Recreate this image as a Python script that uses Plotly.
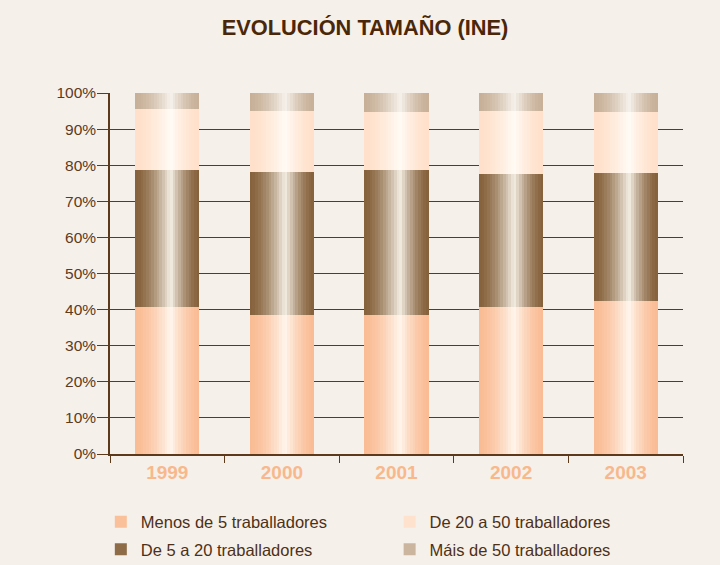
import plotly.graph_objects as go

# ---- data ----
years = ["1999", "2000", "2001", "2002", "2003"]
menos5 = [40.7, 38.5, 38.5, 40.7, 42.4]
de5a20 = [38.0, 39.6, 40.2, 36.9, 35.4]
de20a50 = [16.9, 16.9, 16.0, 17.4, 16.9]
mais50 = [4.4, 5.0, 5.3, 5.0, 5.3]
series_names = ["Menos de 5 traballadores", "De 5 a 20 traballadores",
                "De 20 a 50 traballadores", "Máis de 50 traballadores"]
series_values = [menos5, de5a20, de20a50, mais50]
y_ticks = [0, 10, 20, 30, 40, 50, 60, 70, 80, 90, 100]
y_tick_labels = [f"{v}%" for v in y_ticks]

# ---- style ----
edge_colors = [(250, 188, 148), (134, 98, 60), (255, 224, 202), (200, 176, 152)]
center_colors = [(255, 246, 238), (244, 238, 228), (255, 251, 246), (246, 242, 236)]
legend_ids = ["legend", "legend", "legend2", "legend2"]
BAR_W = 0.56
N = 24
PEAK = 0.55


def shade(edge, center, t):
    if t < PEAK:
        f = t / PEAK
    else:
        f = 1 - (t - PEAK) / (1 - PEAK)
    f = f ** 1.6
    return "rgb(%d,%d,%d)" % tuple(round(e + (c - e) * f) for e, c in zip(edge, center))


fig = go.Figure()
base = [0.0] * len(years)
for s, (name, vals) in enumerate(zip(series_names, series_values)):
    for i in range(N):
        t = (i + 0.5) / N
        fig.add_trace(go.Bar(
            x=years, y=vals, base=list(base),
            width=BAR_W / N * 1.04, offset=-BAR_W / 2 + i * BAR_W / N,
            marker=dict(color=shade(edge_colors[s], center_colors[s], t), line=dict(width=0)),
            name=name, legendgroup=name, showlegend=(i == 2),
            legend=legend_ids[s], hoverinfo="skip",
        ))
    base = [b + v for b, v in zip(base, vals)]

axis_col = "#5e3a1c"
leg_common = dict(orientation="v", yanchor="top", xanchor="left",
                  font=dict(size=16.5, color="#4e3016"), bgcolor="rgba(0,0,0,0)",
                  tracegroupgap=3, itemwidth=30)
fig.update_layout(
    width=720, height=565,
    barmode="overlay", bargap=0,
    paper_bgcolor="#f5f0ea", plot_bgcolor="#f5f0ea",
    margin=dict(l=110, r=37, t=93, b=111, autoexpand=False),
    title=dict(text="<b>EVOLUCIÓN TAMAÑO (INE)</b>", x=0.507, xanchor="center",
               y=0.952, yanchor="middle",
               font=dict(family="Liberation Sans, Arial", size=21.8, color="#4a2709")),
    font=dict(family="Liberation Sans, Arial", color="#5e3a1c"),
    showlegend=True,
    legend=dict(x=-0.016, y=-0.14, **leg_common),
    legend2=dict(x=0.488, y=-0.14, **leg_common),
)
fig.update_xaxes(
    type="category", range=[-0.5, 4.5],
    tickson="boundaries", ticks="outside", ticklen=7, tickcolor=axis_col,
    tickfont=dict(size=19, color="#f8b88c", weight="bold"),
    showgrid=False, showline=True, linecolor=axis_col, linewidth=1.5,
    zeroline=False,
)
fig.update_yaxes(
    range=[0, 100], tickvals=y_ticks, ticktext=y_tick_labels,
    ticks="outside", ticklen=11, tickcolor=axis_col, ticklabelstandoff=-2,
    tickfont=dict(size=15.5, color="#5e3a1c"),
    showgrid=True, gridcolor=axis_col, gridwidth=1.2,
    showline=True, linecolor=axis_col, linewidth=1.5, zeroline=False,
)
fig.write_html("out.html", config={"displayModeBar": False},
               post_script="document.body.style.margin='0';")
